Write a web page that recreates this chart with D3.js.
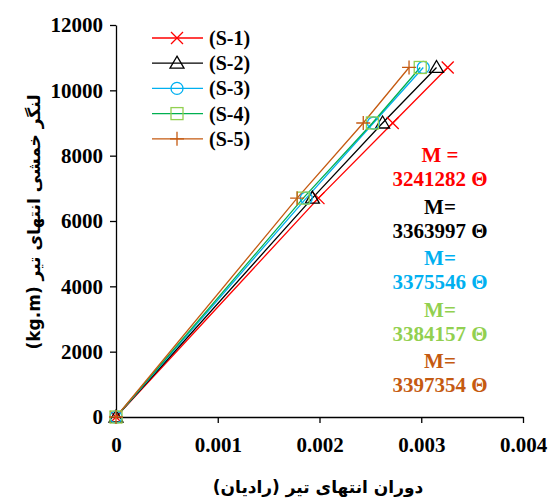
<!DOCTYPE html>
<html>
<head>
<meta charset="utf-8">
<script src="https://cdn.jsdelivr.net/npm/d3@7"></script>
<style>
  body { margin: 0; background: #fff; }
  svg text { font-family: "Liberation Serif", "Times New Roman", serif; font-weight: bold; }
  .fa { font-family: "DejaVu Sans", sans-serif; font-weight: bold; }
</style>
</head>
<body>
<div id="chart"></div>
<script>
// data
const seriesNames = ["(S-1)", "(S-2)", "(S-3)", "(S-4)", "(S-5)"];
const moments = [0, 6700, 9000, 10700];
const rotS1 = [0, 0.00199, 0.00272, 0.00326];
const rotS2 = [0, 0.00193, 0.00262, 0.00315];
const rotS3 = [0, 0.00187, 0.00253, 0.00302];
const rotS4 = [0, 0.00184, 0.00252, 0.00299];
const rotS5 = [0, 0.00178, 0.00243, 0.00288];
const slopeLabels = ["3241282", "3363997", "3375546", "3384157", "3397354"];
const xTicks = [0, 0.001, 0.002, 0.003, 0.004];
const yTicks = [0, 2000, 4000, 6000, 8000, 10000, 12000];

const lineColors = ["#ff0000", "#000000", "#00b0f0", "#00b050", "#c55a11"];
const markColors = ["#ff0000", "#000000", "#00b0f0", "#92d050", "#c55a11"];
const textColors = ["#ff0000", "#000000", "#00b0f0", "#92d050", "#c55a11"];
const markTypes = ["x", "tri", "circle", "square", "plus"];

const series = [rotS1, rotS2, rotS3, rotS4, rotS5].map((r, i) => ({
    name: seriesNames[i],
    points: r.map((x, j) => ({x: x, y: moments[j]}))
}));

const width = 549, height = 500;
const svg = d3.select("#chart").append("svg")
    .attr("width", width).attr("height", height);

const x = d3.scaleLinear().domain([0, 0.004]).range([116, 523]);
const y = d3.scaleLinear().domain([0, 12000]).range([417, 25]);

// axes
const xAxis = svg.append("g")
    .attr("transform", `translate(0,${y(0)})`)
    .call(d3.axisBottom(x).tickValues(xTicks).tickSize(6).tickSizeOuter(0)
        .tickFormat(d => d === 0 ? "0" : d3.format(".3f")(d)));
const yAxis = svg.append("g")
    .attr("transform", `translate(${x(0)},0)`)
    .call(d3.axisLeft(y).tickValues(yTicks).tickSize(6).tickSizeOuter(0)
        .tickFormat(d3.format("d")));

[xAxis, yAxis].forEach(g => {
    g.select(".domain").attr("stroke", "#000").attr("stroke-width", 1.3);
    g.selectAll(".tick line").attr("stroke", "#000").attr("stroke-width", 1.3);
    g.selectAll(".tick text")
        .attr("fill", "#000")
        .style("font-size", "21px")
        .style("font-family", "'Liberation Serif', serif")
        .style("font-weight", "bold");
});
xAxis.select(".tick line").remove();
xAxis.selectAll(".tick text").attr("y", 20);
yAxis.selectAll(".tick text").attr("x", -13);

// markers
function drawMarker(g, type, color, cx, cy) {
    const s = 6;
    if (type === "x") {
        g.append("path").attr("d", `M${cx-s},${cy-s}L${cx+s},${cy+s}M${cx-s},${cy+s}L${cx+s},${cy-s}`)
            .attr("stroke", color).attr("stroke-width", 1.3).attr("fill", "none");
    } else if (type === "tri") {
        g.append("path").attr("d", `M${cx},${cy-s-1}L${cx+s+1},${cy+s-1}L${cx-s-1},${cy+s-1}Z`)
            .attr("stroke", color).attr("stroke-width", 1.3).attr("fill", "none");
    } else if (type === "circle") {
        g.append("circle").attr("cx", cx).attr("cy", cy).attr("r", s)
            .attr("stroke", color).attr("stroke-width", 1.3).attr("fill", "none");
    } else if (type === "square") {
        g.append("rect").attr("x", cx - s).attr("y", cy - s).attr("width", 2 * s).attr("height", 2 * s)
            .attr("stroke", color).attr("stroke-width", 1.3).attr("fill", "none");
    } else {
        g.append("path").attr("d", `M${cx-s-1},${cy}L${cx+s+1},${cy}M${cx},${cy-s-1}L${cx},${cy+s+1}`)
            .attr("stroke", color).attr("stroke-width", 1.3).attr("fill", "none");
    }
}

const line = d3.line().x(d => x(d.x)).y(d => y(d.y));
const plot = svg.append("g");
series.forEach((s, i) => {
    plot.append("path")
        .datum(s.points)
        .attr("d", line)
        .attr("fill", "none")
        .attr("stroke", lineColors[i])
        .attr("stroke-width", 1.3);
});
series.forEach((s, i) => {
    const g = plot.append("g");
    s.points.forEach(p => drawMarker(g, markTypes[i], markColors[i], x(p.x), y(p.y)));
});

// legend
const legend = svg.append("g");
seriesNames.forEach((name, i) => {
    const ly = 38 + i * 25.2;
    legend.append("line")
        .attr("x1", 152).attr("x2", 203).attr("y1", ly).attr("y2", ly)
        .attr("stroke", lineColors[i]).attr("stroke-width", 1.3);
    drawMarker(legend, markTypes[i], markColors[i], 177, ly);
    legend.append("text")
        .attr("x", 209).attr("y", ly + 7)
        .style("font-size", "20px")
        .attr("fill", "#000")
        .text(name);
});

// slope annotations
slopeLabels.forEach((v, i) => {
    const base = 162 + i * 51.6;
    svg.append("text")
        .attr("x", 440).attr("y", base)
        .attr("text-anchor", "middle")
        .style("font-size", "21px")
        .attr("fill", textColors[i])
        .text(i === 0 ? "M =" : "M=");
    svg.append("text")
        .attr("x", 440).attr("y", base + 24)
        .attr("text-anchor", "middle")
        .style("font-size", "21px")
        .attr("fill", textColors[i])
        .text(v + " \u0398");
});

// axis titles
svg.append("text")
    .attr("class", "fa")
    .attr("transform", "translate(40,222) rotate(-90)")
    .attr("text-anchor", "middle")
    .attr("direction", "rtl")
    .style("font-size", "17px")
    .text("لنگر خمشی انتهای تیر (kg.m)");

svg.append("text")
    .attr("class", "fa")
    .attr("x", 318).attr("y", 493)
    .attr("text-anchor", "middle")
    .attr("direction", "rtl")
    .style("font-size", "17px")
    .text("دوران انتهای تیر (رادیان)");
</script>
</body>
</html>
